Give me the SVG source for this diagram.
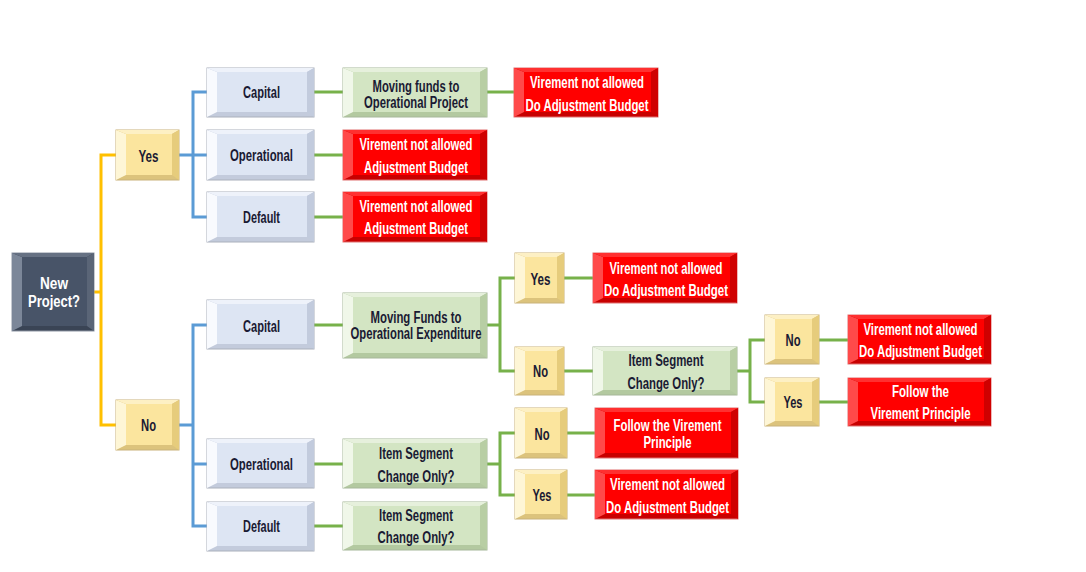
<svg xmlns="http://www.w3.org/2000/svg" width="1086" height="572" viewBox="0 0 1086 572">
<style>
.bg{fill:#ffffff}
.o{stroke-width:1}
.bl .o{fill:#c3cbdc;stroke:#aab0bc}.bl .l{fill:#f8fafe}.bl .t{fill:#eef2fa}.bl .r{fill:#c2cbdd}.bl .f{fill:#dde5f3}
.yl .o{fill:#dcc37c;stroke:#c9b27a}.yl .l{fill:#fef6d6}.yl .t{fill:#fdf0c4}.yl .r{fill:#e6cc7c}.yl .f{fill:#fbe59e}
.gr .o{fill:#b3c9a0;stroke:#a6b79a}.gr .l{fill:#f0f7e9}.gr .t{fill:#e6f0dc}.gr .r{fill:#b8cea4}.gr .f{fill:#d3e5c3}
.rd .o{fill:#c80000;stroke:#e07070}.rd .l{fill:#ff4a4a}.rd .t{fill:#ff3030}.rd .r{fill:#cf0000}.rd .f{fill:#ff0000}
.dk .o{fill:#3a4455;stroke:#8d95a3}.dk .l{fill:#7c8799}.dk .t{fill:#667183}.dk .r{fill:#5a6577}.dk .f{fill:#485468}
text{font-family:"Liberation Sans",Arial,sans-serif;font-weight:bold;font-size:16px;text-anchor:middle}
.tx{fill:#1a1a33}
.tw{fill:#ffffff}
.c{fill:none;stroke-width:3}
.cy{stroke:#ffc000}.cb{stroke:#5b9bd5}.cg{stroke:#77b14a}
</style>
<rect class="bg" x="0" y="0" width="1086" height="572"/>
<g id="connectors">
<path class="c cy" d="M94 292 H101 M116 155 H101 V425 H116"/>
<path class="c cb" d="M179 155 H193 M207 92 H193 V217 H207 M193 155 H207"/>
<path class="c cb" d="M179 425 H193 M207 325 H193 V526 H207 M193 464 H207"/>
<path class="c cg" d="M314 92 H343 M487 92 H514 M314 155 H343 M314 217 H343 M314 325 H343 M314 464 H343 M314 526 H343"/>
<path class="c cg" d="M487 325 H500 M515 278 H500 V371 H515 M564 278 H593 M564 371 H593"/>
<path class="c cg" d="M737 371 H750 M765 340 H750 V402 H765 M819 340 H848 M819 402 H848"/>
<path class="c cg" d="M487 464 H500 M515 433 H500 V495 H515 M567 433 H595 M567 495 H595"/>
</g>
<g id="new-project" class="dk">
<rect class="o" x="12" y="253" width="82" height="78"/><path class="l" d="M12 253 l10 4 v69 l-10 5z"/><path class="t" d="M12 253 h82 l-7 4 h-65z"/><path class="r" d="M94 253 v78 l-7 -5 v-69z"/><rect class="f" x="22" y="257" width="65" height="69"/>
<text class="tw" x="54" y="289" textLength="28" lengthAdjust="spacingAndGlyphs">New</text>
<text class="tw" x="54" y="307" textLength="52" lengthAdjust="spacingAndGlyphs">Project?</text>
</g>
<g id="yes-1" class="yl">
<rect class="o" x="116" y="130" width="63" height="50"/><path class="l" d="M116 130 l10 4 v41 l-10 5z"/><path class="t" d="M116 130 h63 l-7 4 h-46z"/><path class="r" d="M179 130 v50 l-7 -5 v-41z"/><rect class="f" x="126" y="134" width="46" height="41"/>
<text class="tx" x="148.5" y="161.5" textLength="20" lengthAdjust="spacingAndGlyphs">Yes</text>
</g>
<g id="no-1" class="yl">
<rect class="o" x="116" y="400" width="63" height="50"/><path class="l" d="M116 400 l10 4 v41 l-10 5z"/><path class="t" d="M116 400 h63 l-7 4 h-46z"/><path class="r" d="M179 400 v50 l-7 -5 v-41z"/><rect class="f" x="126" y="404" width="46" height="41"/>
<text class="tx" x="148.5" y="431" textLength="15" lengthAdjust="spacingAndGlyphs">No</text>
</g>
<g id="capital-1" class="bl">
<rect class="o" x="207" y="68" width="107" height="49"/><path class="l" d="M207 68 l10 4 v40 l-10 5z"/><path class="t" d="M207 68 h107 l-7 4 h-90z"/><path class="r" d="M314 68 v49 l-7 -5 v-40z"/><rect class="f" x="217" y="72" width="90" height="40"/>
<text class="tx" x="261.5" y="98.3" textLength="37" lengthAdjust="spacingAndGlyphs">Capital</text>
</g>
<g id="operational-1" class="bl">
<rect class="o" x="207" y="130" width="107" height="50"/><path class="l" d="M207 130 l10 4 v41 l-10 5z"/><path class="t" d="M207 130 h107 l-7 4 h-90z"/><path class="r" d="M314 130 v50 l-7 -5 v-41z"/><rect class="f" x="217" y="134" width="90" height="41"/>
<text class="tx" x="261.5" y="161.3" textLength="63" lengthAdjust="spacingAndGlyphs">Operational</text>
</g>
<g id="default-1" class="bl">
<rect class="o" x="207" y="192" width="107" height="50"/><path class="l" d="M207 192 l10 4 v41 l-10 5z"/><path class="t" d="M207 192 h107 l-7 4 h-90z"/><path class="r" d="M314 192 v50 l-7 -5 v-41z"/><rect class="f" x="217" y="196" width="90" height="41"/>
<text class="tx" x="261.5" y="223" textLength="37" lengthAdjust="spacingAndGlyphs">Default</text>
</g>
<g id="moving-funds-project" class="gr">
<rect class="o" x="343" y="68" width="144" height="49"/><path class="l" d="M343 68 l10 4 v40 l-10 5z"/><path class="t" d="M343 68 h144 l-7 4 h-127z"/><path class="r" d="M487 68 v49 l-7 -5 v-40z"/><rect class="f" x="353" y="72" width="127" height="40"/>
<text class="tx" x="416" y="92" textLength="87" lengthAdjust="spacingAndGlyphs">Moving funds to</text>
<text class="tx" x="416" y="107.5" textLength="104" lengthAdjust="spacingAndGlyphs">Operational Project</text>
</g>
<g id="red-1" class="rd">
<rect class="o" x="514" y="68" width="144" height="49"/><path class="l" d="M514 68 l10 4 v40 l-10 5z"/><path class="t" d="M514 68 h144 l-7 4 h-127z"/><path class="r" d="M658 68 v49 l-7 -5 v-40z"/><rect class="f" x="524" y="72" width="127" height="40"/>
<text class="tw" x="587" y="87.5" textLength="114" lengthAdjust="spacingAndGlyphs">Virement not allowed</text>
<text class="tw" x="587" y="110.8" textLength="123" lengthAdjust="spacingAndGlyphs">Do Adjustment Budget</text>
</g>
<g id="red-2" class="rd">
<rect class="o" x="343" y="130" width="144" height="50"/><path class="l" d="M343 130 l10 4 v41 l-10 5z"/><path class="t" d="M343 130 h144 l-7 4 h-127z"/><path class="r" d="M487 130 v50 l-7 -5 v-41z"/><rect class="f" x="353" y="134" width="127" height="41"/>
<text class="tw" x="416" y="150" textLength="113" lengthAdjust="spacingAndGlyphs">Virement not allowed</text>
<text class="tw" x="416" y="172.5" textLength="104" lengthAdjust="spacingAndGlyphs">Adjustment Budget</text>
</g>
<g id="red-3" class="rd">
<rect class="o" x="343" y="192" width="144" height="50"/><path class="l" d="M343 192 l10 4 v41 l-10 5z"/><path class="t" d="M343 192 h144 l-7 4 h-127z"/><path class="r" d="M487 192 v50 l-7 -5 v-41z"/><rect class="f" x="353" y="196" width="127" height="41"/>
<text class="tw" x="416" y="211.6" textLength="113" lengthAdjust="spacingAndGlyphs">Virement not allowed</text>
<text class="tw" x="416" y="234" textLength="104" lengthAdjust="spacingAndGlyphs">Adjustment Budget</text>
</g>
<g id="capital-2" class="bl">
<rect class="o" x="207" y="300" width="107" height="49"/><path class="l" d="M207 300 l10 4 v40 l-10 5z"/><path class="t" d="M207 300 h107 l-7 4 h-90z"/><path class="r" d="M314 300 v49 l-7 -5 v-40z"/><rect class="f" x="217" y="304" width="90" height="40"/>
<text class="tx" x="261.5" y="331.6" textLength="37" lengthAdjust="spacingAndGlyphs">Capital</text>
</g>
<g id="operational-2" class="bl">
<rect class="o" x="207" y="439" width="107" height="49"/><path class="l" d="M207 439 l10 4 v40 l-10 5z"/><path class="t" d="M207 439 h107 l-7 4 h-90z"/><path class="r" d="M314 439 v49 l-7 -5 v-40z"/><rect class="f" x="217" y="443" width="90" height="40"/>
<text class="tx" x="261.5" y="470" textLength="63" lengthAdjust="spacingAndGlyphs">Operational</text>
</g>
<g id="default-2" class="bl">
<rect class="o" x="207" y="502" width="107" height="49"/><path class="l" d="M207 502 l10 4 v40 l-10 5z"/><path class="t" d="M207 502 h107 l-7 4 h-90z"/><path class="r" d="M314 502 v49 l-7 -5 v-40z"/><rect class="f" x="217" y="506" width="90" height="40"/>
<text class="tx" x="261.5" y="531.6" textLength="37" lengthAdjust="spacingAndGlyphs">Default</text>
</g>
<g id="moving-funds-expenditure" class="gr">
<rect class="o" x="343" y="293" width="144" height="65"/><path class="l" d="M343 293 l10 4 v56 l-10 5z"/><path class="t" d="M343 293 h144 l-7 4 h-127z"/><path class="r" d="M487 293 v65 l-7 -5 v-56z"/><rect class="f" x="353" y="297" width="127" height="56"/>
<text class="tx" x="416" y="322.5" textLength="91" lengthAdjust="spacingAndGlyphs">Moving Funds to</text>
<text class="tx" x="416" y="339" textLength="131" lengthAdjust="spacingAndGlyphs">Operational Expenditure</text>
</g>
<g id="yes-2" class="yl">
<rect class="o" x="515" y="253" width="49" height="50"/><path class="l" d="M515 253 l10 4 v41 l-10 5z"/><path class="t" d="M515 253 h49 l-7 4 h-32z"/><path class="r" d="M564 253 v50 l-7 -5 v-41z"/><rect class="f" x="525" y="257" width="32" height="41"/>
<text class="tx" x="540.5" y="284.6" textLength="20" lengthAdjust="spacingAndGlyphs">Yes</text>
</g>
<g id="red-4" class="rd">
<rect class="o" x="593" y="253" width="144" height="50"/><path class="l" d="M593 253 l10 4 v41 l-10 5z"/><path class="t" d="M593 253 h144 l-7 4 h-127z"/><path class="r" d="M737 253 v50 l-7 -5 v-41z"/><rect class="f" x="603" y="257" width="127" height="41"/>
<text class="tw" x="666" y="273.6" textLength="113" lengthAdjust="spacingAndGlyphs">Virement not allowed</text>
<text class="tw" x="666" y="295.8" textLength="124" lengthAdjust="spacingAndGlyphs">Do Adjustment Budget</text>
</g>
<g id="no-2" class="yl">
<rect class="o" x="515" y="347" width="49" height="48"/><path class="l" d="M515 347 l10 4 v39 l-10 5z"/><path class="t" d="M515 347 h49 l-7 4 h-32z"/><path class="r" d="M564 347 v48 l-7 -5 v-39z"/><rect class="f" x="525" y="351" width="32" height="39"/>
<text class="tx" x="540.5" y="377" textLength="15" lengthAdjust="spacingAndGlyphs">No</text>
</g>
<g id="item-segment-1" class="gr">
<rect class="o" x="593" y="347" width="144" height="48"/><path class="l" d="M593 347 l10 4 v39 l-10 5z"/><path class="t" d="M593 347 h144 l-7 4 h-127z"/><path class="r" d="M737 347 v48 l-7 -5 v-39z"/><rect class="f" x="603" y="351" width="127" height="39"/>
<text class="tx" x="666" y="365.8" textLength="75" lengthAdjust="spacingAndGlyphs">Item Segment</text>
<text class="tx" x="666" y="389" textLength="77" lengthAdjust="spacingAndGlyphs">Change Only?</text>
</g>
<g id="no-3" class="yl">
<rect class="o" x="765" y="315" width="54" height="49"/><path class="l" d="M765 315 l10 4 v40 l-10 5z"/><path class="t" d="M765 315 h54 l-7 4 h-37z"/><path class="r" d="M819 315 v49 l-7 -5 v-40z"/><rect class="f" x="775" y="319" width="37" height="40"/>
<text class="tx" x="793" y="346.3" textLength="15" lengthAdjust="spacingAndGlyphs">No</text>
</g>
<g id="yes-3" class="yl">
<rect class="o" x="765" y="378" width="54" height="48"/><path class="l" d="M765 378 l10 4 v39 l-10 5z"/><path class="t" d="M765 378 h54 l-7 4 h-37z"/><path class="r" d="M819 378 v48 l-7 -5 v-39z"/><rect class="f" x="775" y="382" width="37" height="39"/>
<text class="tx" x="793" y="408.3" textLength="19" lengthAdjust="spacingAndGlyphs">Yes</text>
</g>
<g id="red-5" class="rd">
<rect class="o" x="848" y="315" width="143" height="49"/><path class="l" d="M848 315 l10 4 v40 l-10 5z"/><path class="t" d="M848 315 h143 l-7 4 h-126z"/><path class="r" d="M991 315 v49 l-7 -5 v-40z"/><rect class="f" x="858" y="319" width="126" height="40"/>
<text class="tw" x="920.5" y="335" textLength="114" lengthAdjust="spacingAndGlyphs">Virement not allowed</text>
<text class="tw" x="920.5" y="357.3" textLength="123" lengthAdjust="spacingAndGlyphs">Do Adjustment Budget</text>
</g>
<g id="red-6" class="rd">
<rect class="o" x="848" y="378" width="143" height="48"/><path class="l" d="M848 378 l10 4 v39 l-10 5z"/><path class="t" d="M848 378 h143 l-7 4 h-126z"/><path class="r" d="M991 378 v48 l-7 -5 v-39z"/><rect class="f" x="858" y="382" width="126" height="39"/>
<text class="tw" x="920.5" y="396.6" textLength="57" lengthAdjust="spacingAndGlyphs">Follow the</text>
<text class="tw" x="920.5" y="419" textLength="100" lengthAdjust="spacingAndGlyphs">Virement Principle</text>
</g>
<g id="item-segment-2" class="gr">
<rect class="o" x="343" y="439" width="144" height="49"/><path class="l" d="M343 439 l10 4 v40 l-10 5z"/><path class="t" d="M343 439 h144 l-7 4 h-127z"/><path class="r" d="M487 439 v49 l-7 -5 v-40z"/><rect class="f" x="353" y="443" width="127" height="40"/>
<text class="tx" x="416" y="459" textLength="74" lengthAdjust="spacingAndGlyphs">Item Segment</text>
<text class="tx" x="416" y="481.6" textLength="77" lengthAdjust="spacingAndGlyphs">Change Only?</text>
</g>
<g id="item-segment-3" class="gr">
<rect class="o" x="343" y="502" width="144" height="48"/><path class="l" d="M343 502 l10 4 v39 l-10 5z"/><path class="t" d="M343 502 h144 l-7 4 h-127z"/><path class="r" d="M487 502 v48 l-7 -5 v-39z"/><rect class="f" x="353" y="506" width="127" height="39"/>
<text class="tx" x="416" y="521.3" textLength="74" lengthAdjust="spacingAndGlyphs">Item Segment</text>
<text class="tx" x="416" y="543.3" textLength="77" lengthAdjust="spacingAndGlyphs">Change Only?</text>
</g>
<g id="no-4" class="yl">
<rect class="o" x="515" y="408" width="52" height="50"/><path class="l" d="M515 408 l10 4 v41 l-10 5z"/><path class="t" d="M515 408 h52 l-7 4 h-35z"/><path class="r" d="M567 408 v50 l-7 -5 v-41z"/><rect class="f" x="525" y="412" width="35" height="41"/>
<text class="tx" x="542" y="439.6" textLength="15" lengthAdjust="spacingAndGlyphs">No</text>
</g>
<g id="yes-4" class="yl">
<rect class="o" x="515" y="470" width="52" height="49"/><path class="l" d="M515 470 l10 4 v40 l-10 5z"/><path class="t" d="M515 470 h52 l-7 4 h-35z"/><path class="r" d="M567 470 v49 l-7 -5 v-40z"/><rect class="f" x="525" y="474" width="35" height="40"/>
<text class="tx" x="542" y="500.8" textLength="19" lengthAdjust="spacingAndGlyphs">Yes</text>
</g>
<g id="red-7" class="rd">
<rect class="o" x="595" y="408" width="143" height="50"/><path class="l" d="M595 408 l10 4 v41 l-10 5z"/><path class="t" d="M595 408 h143 l-7 4 h-126z"/><path class="r" d="M738 408 v50 l-7 -5 v-41z"/><rect class="f" x="605" y="412" width="126" height="41"/>
<text class="tw" x="667.5" y="430.8" textLength="108" lengthAdjust="spacingAndGlyphs">Follow the Virement</text>
<text class="tw" x="667.5" y="447.5" textLength="48" lengthAdjust="spacingAndGlyphs">Principle</text>
</g>
<g id="red-8" class="rd">
<rect class="o" x="595" y="470" width="143" height="49"/><path class="l" d="M595 470 l10 4 v40 l-10 5z"/><path class="t" d="M595 470 h143 l-7 4 h-126z"/><path class="r" d="M738 470 v49 l-7 -5 v-40z"/><rect class="f" x="605" y="474" width="126" height="40"/>
<text class="tw" x="667.5" y="490" textLength="115" lengthAdjust="spacingAndGlyphs">Virement not allowed</text>
<text class="tw" x="667.5" y="512.5" textLength="123" lengthAdjust="spacingAndGlyphs">Do Adjustment Budget</text>
</g>
</svg>
